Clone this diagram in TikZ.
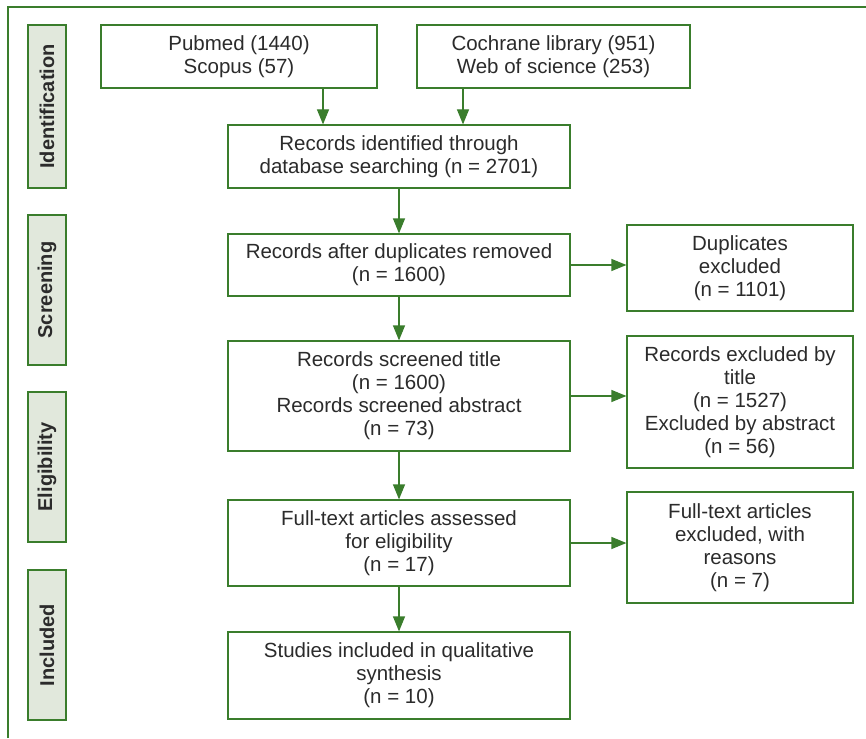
\documentclass[tikz,border=0pt]{standalone}
\usepackage{fontspec}
\setmainfont{Liberation Sans}
\usetikzlibrary{arrows.meta}
\definecolor{gr}{HTML}{3A7D2C}
\definecolor{lab}{HTML}{E1E8DC}
\definecolor{txt}{HTML}{2B2B2B}
\begin{document}
\begin{tikzpicture}[x=1pt,y=-1pt,
  box/.style={draw=gr,line width=1.2pt,fill=white,text=txt,align=center,font=\fontsize{20.5}{23}\selectfont,inner sep=0pt},
  stage/.style={draw=gr,line width=1.2pt,fill=lab,text=txt,font=\fontsize{20}{22}\selectfont\bfseries,inner sep=0pt},
  arr/.style={draw=gr,line width=1.2pt,-{Triangle[length=15pt,width=12pt]}}]
\useasboundingbox (0,0) rectangle (866,738);
\draw[gr,line width=1.2pt] (8,738) -- (8,7) -- (866,7);
% stage labels
\node[stage,minimum width=38pt,minimum height=163pt] (sI) at (47,106.5) {\rotatebox{90}{Identification}};
\node[stage,minimum width=38pt,minimum height=150pt] (sS) at (47,290) {\rotatebox{90}{Screening}};
\node[stage,minimum width=38pt,minimum height=150pt] (sE) at (47,467) {\rotatebox{90}{Eligibility}};
\node[stage,minimum width=38pt,minimum height=150pt] (sN) at (47,645) {\rotatebox{90}{Included}};
% boxes
\node[box,minimum width=276pt,minimum height=63pt] (pub) at (239,56.5) {Pubmed (1440)\\Scopus (57)};
\node[box,minimum width=273pt,minimum height=63pt] (coc) at (553.5,56.5) {Cochrane library (951)\\Web of science (253)};
\node[box,minimum width=342pt,minimum height=63pt] (rid) at (399,156.5) {Records identified through\\database searching (n = 2701)};
\node[box,minimum width=342pt,minimum height=62pt] (rad) at (399,265) {Records after duplicates removed\\(n = 1600)};
\node[box,minimum width=226pt,minimum height=86pt] (dup) at (740,268) {Duplicates\\excluded\\(n = 1101)};
\node[box,minimum width=342pt,minimum height=110pt] (rsc) at (399,396) {Records screened title\\(n = 1600)\\Records screened abstract\\(n = 73)};
\node[box,minimum width=226pt,minimum height=132pt] (rex) at (740,402) {Records excluded by\\title\\(n = 1527)\\Excluded by abstract\\(n = 56)};
\node[box,minimum width=342pt,minimum height=86pt] (fta) at (399,543) {Full-text articles assessed\\for eligibility\\(n = 17)};
\node[box,minimum width=226pt,minimum height=111pt] (fte) at (740,547.5) {Full-text articles\\excluded, with\\reasons\\(n = 7)};
\node[box,minimum width=342pt,minimum height=87pt] (sin) at (399,675.5) {Studies included in qualitative\\synthesis\\(n = 10)};
% connectors
\draw[arr] (pub.south -| 323,0) -- (rid.north -| 323,0);
\draw[arr] (coc.south -| 463,0) -- (rid.north -| 463,0);
\draw[arr] (rid) -- (rad);
\draw[arr] (rad) -- (rsc);
\draw[arr] (rsc) -- (fta);
\draw[arr] (fta) -- (sin);
\draw[arr] (rad.east) -- (rad.east -| dup.west);
\draw[arr] (rsc.east) -- (rsc.east -| rex.west);
\draw[arr] (fta.east) -- (fta.east -| fte.west);
\end{tikzpicture}
\end{document}
